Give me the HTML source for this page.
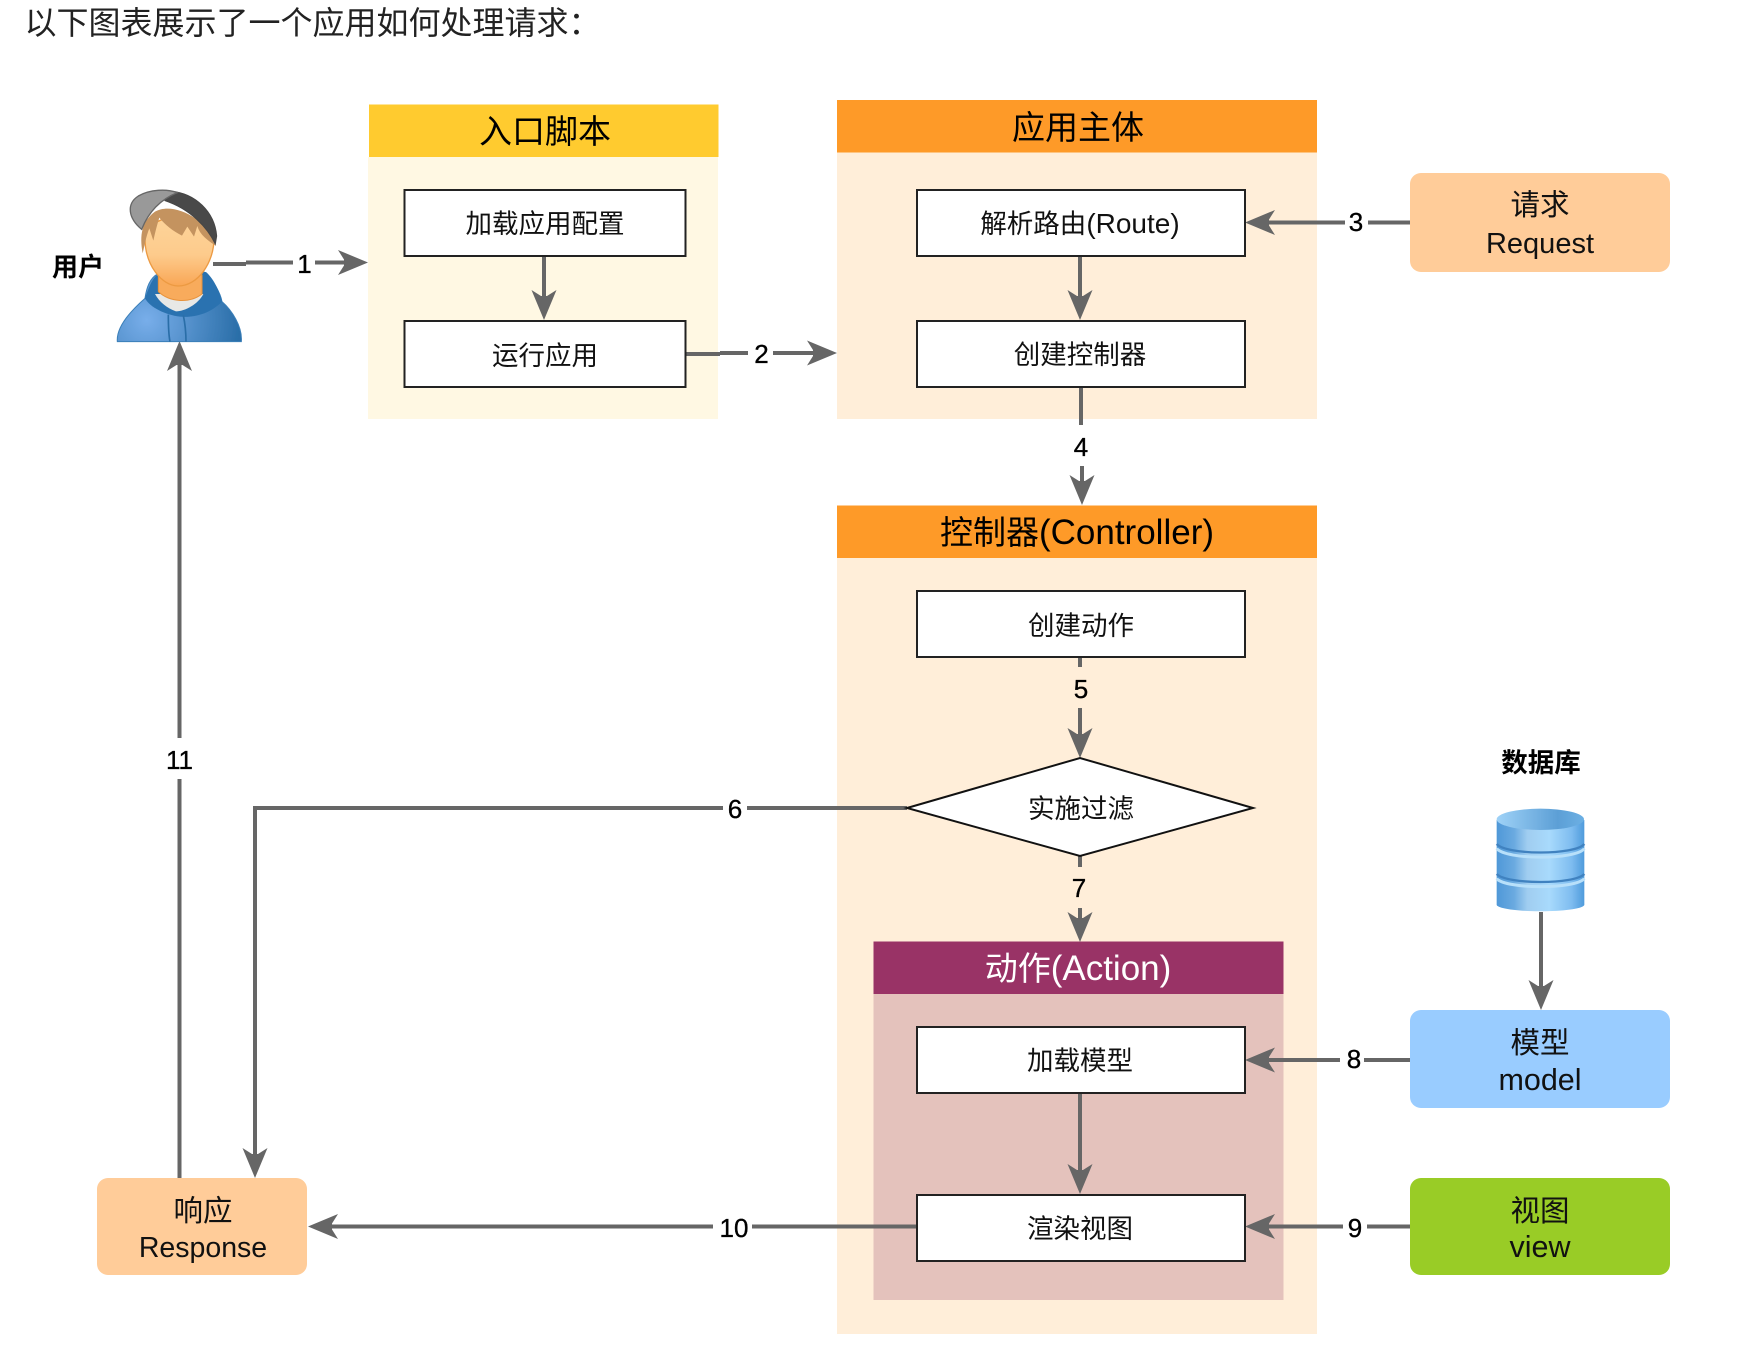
<!DOCTYPE html>
<html><head><meta charset="utf-8">
<style>
html,body{margin:0;padding:0;background:#fff;width:1738px;height:1366px;overflow:hidden}
svg{display:block}
text{font-family:"Liberation Sans","Noto Sans CJK SC",sans-serif;fill:#000;text-anchor:middle}
.h{font-size:33px}
.b{font-size:26.5px;fill:#111}
.s{font-size:29.5px;fill:#111}
.lat{font-size:29px;fill:#111}
.n{font-size:26px;stroke:#000;stroke-width:.35}
.l{stroke:#666;stroke-width:4;fill:none}
.box{fill:#fff;stroke:#222;stroke-width:2}
</style></head><body>
<svg width="1738" height="1366" viewBox="0 0 1738 1366" xmlns="http://www.w3.org/2000/svg">
<defs>
<polygon id="a" points="0,0 -30,-12.5 -24,-3 -24,3 -30,12.5" fill="#666"/>
<radialGradient id="bd" gradientUnits="userSpaceOnUse" cx="140" cy="450" r="280"><stop offset="0" stop-color="#78aeea"/><stop offset="1" stop-color="#2a6ea8"/></radialGradient>
<linearGradient id="fc" x1="0" y1="0" x2="0" y2="1"><stop offset="0" stop-color="#fdd49a"/><stop offset=".55" stop-color="#fdcb8c"/><stop offset="1" stop-color="#f9a655"/></linearGradient>
<linearGradient id="db" x1="0" y1="0" x2="1" y2="0"><stop offset="0" stop-color="#4f98d8"/><stop offset=".2" stop-color="#6aaae0"/><stop offset=".35" stop-color="#a0cdf0"/><stop offset=".6" stop-color="#a8dafc"/><stop offset=".85" stop-color="#7fbdf0"/><stop offset="1" stop-color="#4f9bdc"/></linearGradient>
<linearGradient id="dt" x1="0" y1="0" x2="1" y2="0"><stop offset="0" stop-color="#9fd2f7"/><stop offset=".7" stop-color="#5c9fd6"/><stop offset="1" stop-color="#6cb0e4"/></linearGradient>
<filter id="sf" x="-5%" y="-5%" width="110%" height="110%"><feGaussianBlur stdDeviation=".5"/></filter>
</defs>

<text x="24.5" y="34" style="font-size:32px;text-anchor:start;fill:#222">以下图表展示了一个应用如何处理请求：</text>

<!-- containers -->
<rect x="368" y="157" width="350" height="262" fill="#fff8e3"/>
<rect x="369" y="104.5" width="349.5" height="52.5" fill="#ffcb2f"/>
<rect x="837" y="152" width="480" height="267" fill="#ffeed9"/>
<rect x="837" y="100" width="480" height="52.5" fill="#fe9a28"/>
<rect x="837" y="557" width="480" height="777" fill="#ffeed9"/>
<rect x="837" y="505.5" width="480" height="52.5" fill="#fe9a28"/>
<rect x="873.5" y="994" width="410" height="306" fill="#e4c2bc"/>
<rect x="873.5" y="941.5" width="410" height="52.5" fill="#993366"/>

<text class="h" x="545" y="143">入口脚本</text>
<text class="h" x="1078" y="139">应用主体</text>
<text class="h" x="1077" y="544">控制器<tspan style="font-size:35px">(Controller)</tspan></text>
<text class="h" x="1078" y="980" style="fill:#fff">动作<tspan style="font-size:35px;fill:#fff">(Action)</tspan></text>

<!-- connectors -->
<path class="l" d="M213 264H246M246 262.5H293M315 262.5H345"/>
<use href="#a" transform="translate(368,262.5)"/>
<path class="l" d="M686 354H720M720 353H748M773 353H815"/>
<use href="#a" transform="translate(837,353)"/>
<path class="l" d="M544 256V300"/>
<use href="#a" transform="translate(544,320) rotate(90)"/>
<path class="l" d="M1080 256V300"/>
<use href="#a" transform="translate(1080,320) rotate(90)"/>
<path class="l" d="M1410 222.5H1368M1345 222.5H1265"/>
<use href="#a" transform="translate(1245,222.5) rotate(180)"/>
<path class="l" d="M1081 387V425M1082 466V485"/>
<use href="#a" transform="translate(1082,505) rotate(90)"/>
<path class="l" d="M1080 657V667M1080 708V740"/>
<use href="#a" transform="translate(1080,758) rotate(90)"/>
<path class="l" d="M1080 855V867M1080 908V925"/>
<use href="#a" transform="translate(1080,942) rotate(90)"/>
<path class="l" d="M907 808H747M723 808H255V1160"/>
<use href="#a" transform="translate(255,1178) rotate(90)"/>
<path class="l" d="M1541 912V992"/>
<use href="#a" transform="translate(1541,1010) rotate(90)"/>
<path class="l" d="M1410 1060H1364M1340 1060H1265"/>
<use href="#a" transform="translate(1245,1060) rotate(180)"/>
<path class="l" d="M1080 1093V1175"/>
<use href="#a" transform="translate(1080,1194) rotate(90)"/>
<path class="l" d="M1410 1226.5H1367M1343 1226.5H1265"/>
<use href="#a" transform="translate(1245,1226.5) rotate(180)"/>
<path class="l" d="M917 1226.5H752M713 1226.5H330"/>
<use href="#a" transform="translate(308,1226.5) rotate(180)"/>
<path class="l" d="M179.5 1178V779M179.5 738V360"/>
<use href="#a" transform="translate(179.5,341) rotate(-90)"/>

<!-- process boxes -->
<rect class="box" x="404.5" y="190" width="281" height="66"/>
<rect class="box" x="404.5" y="321" width="281" height="66"/>
<rect class="box" x="917" y="190" width="328" height="66"/>
<rect class="box" x="917" y="321" width="328" height="66"/>
<rect class="box" x="917" y="591" width="328" height="66"/>
<polygon points="907,808 1080,758 1253,808 1080,856" fill="#fff" stroke="#111" stroke-width="2"/>
<rect class="box" x="917" y="1027" width="328" height="66"/>
<rect class="box" x="917" y="1195" width="328" height="66"/>

<text class="b" x="545" y="233">加载应用配置</text>
<text class="b" x="545" y="365">运行应用</text>
<text class="b" x="1080" y="233">解析路由<tspan style="font-size:28px">(Route)</tspan></text>
<text class="b" x="1080" y="364">创建控制器</text>
<text class="b" x="1081" y="635">创建动作</text>
<text class="b" x="1081" y="818">实施过滤</text>
<text class="b" x="1080" y="1070">加载模型</text>
<text class="b" x="1080" y="1238">渲染视图</text>

<!-- side nodes -->
<rect x="1410" y="173" width="260" height="99" rx="11" fill="#ffcc99"/>
<rect x="1410" y="1010" width="260" height="98" rx="11" fill="#99ccff"/>
<rect x="1410" y="1178" width="260" height="97" rx="11" fill="#99cc26"/>
<rect x="97" y="1178" width="210" height="97" rx="11" fill="#ffcc99"/>

<text class="s" x="1540" y="215">请求</text>
<text class="lat" x="1540" y="253">Request</text>
<text class="s" x="1540" y="1053">模型</text>
<text class="lat" x="1540" y="1090" style="font-size:30.5px">model</text>
<text class="s" x="1540" y="1221">视图</text>
<text class="lat" x="1540" y="1257" style="font-size:30.5px">view</text>
<text class="s" x="203" y="1221">响应</text>
<text class="lat" x="203" y="1257" style="font-size:28.5px">Response</text>

<text x="78" y="276" style="font-size:26px;font-weight:700">用户</text>
<text x="1541" y="772" style="font-size:26.5px;font-weight:700">数据库</text>

<!-- labels -->
<text class="n" x="304.5" y="273">1</text>
<text class="n" x="761.5" y="363">2</text>
<text class="n" x="1356" y="231">3</text>
<text class="n" x="1081" y="456">4</text>
<text class="n" x="1081" y="698">5</text>
<text class="n" x="735" y="818">6</text>
<text class="n" x="1079" y="897">7</text>
<text class="n" x="1354" y="1068">8</text>
<text class="n" x="1355" y="1237">9</text>
<text class="n" x="734" y="1237">10</text>
<text class="n" x="179.5" y="769">11</text>

<!-- user icon -->
<g transform="translate(100,170) scale(.33333)" filter="url(#sf)">
<path d="M52 515C48 470 95 420 135 385C140 350 150 325 172 312L312 306C340 330 362 370 366 395C395 420 428 470 424 515Z" fill="url(#bd)" stroke="#3a7fb8" stroke-width="3"/>
<path d="M135 385C148 345 160 322 175 312L318 306C345 330 360 370 366 395C330 432 280 444 240 440C195 434 150 412 135 385Z" fill="#2a72b0"/>
<path d="M165 372L310 372C295 402 255 424 228 424C200 414 178 396 165 372Z" fill="#e8e8e6"/>
<path d="M175 315H306V372C270 400 210 398 175 365Z" fill="#f8ab5c" stroke="#e8923a" stroke-width="3"/>
<path d="M205 434C205 460 205 490 210 515M250 436C255 460 258 490 258 515" stroke="#2a6ea8" stroke-width="5" fill="none"/>
<path d="M135 205C135 285 185 348 235 348C292 348 342 280 342 205C342 120 135 120 135 205Z" fill="url(#fc)" stroke="#ec9a42" stroke-width="4"/>
<path d="M128 250C118 195 125 155 165 125C215 95 320 140 348 228C322 210 300 195 292 168L282 200L262 170L246 197C220 184 195 165 178 143C170 168 165 190 160 212L148 175C138 200 134 225 128 250Z" fill="#c4935f"/>
<path d="M215 64C285 70 344 125 350 198L346 222C322 172 272 118 195 92Z" fill="#4a4a4a" stroke="#444" stroke-width="3"/>
<path d="M125 178C85 145 78 102 115 78C150 58 200 56 232 68C190 85 150 115 125 178Z" fill="#999" stroke="#666" stroke-width="4"/>
</g>

<!-- database icon -->
<g transform="translate(1480,730) scale(.33333)" filter="url(#sf)">
<path d="M50 270H313V525C300 550 65 550 50 525Z" fill="url(#db)"/>
<path d="M50 342C80 376 285 376 313 342" stroke="#3f82c0" stroke-width="7" fill="none"/>
<path d="M50 356C80 390 285 390 313 356" stroke="#b8e0fa" stroke-width="9" fill="none"/>
<path d="M50 432C80 464 285 464 313 432" stroke="#3f82c0" stroke-width="7" fill="none"/>
<path d="M50 446C80 478 285 478 313 446" stroke="#b8e0fa" stroke-width="9" fill="none"/>
<ellipse cx="181" cy="268" rx="131" ry="32" fill="url(#dt)"/>
</g>
</svg>
</body></html>
